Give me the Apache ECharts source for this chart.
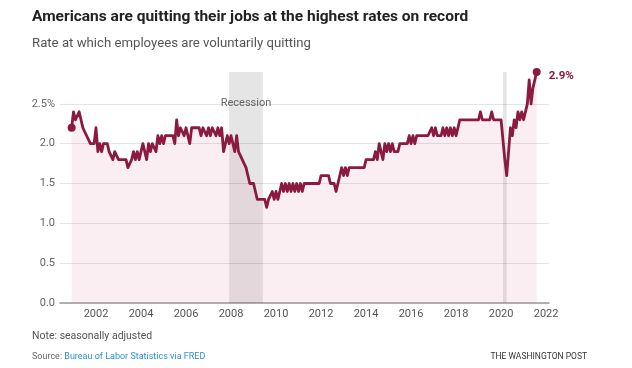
<!DOCTYPE html>
<html><head><meta charset="utf-8">
<script src="https://cdn.jsdelivr.net/npm/echarts@6/dist/echarts.min.js"></script>
<style>html,body{margin:0;padding:0;background:#fff}#c{width:632px;height:368px}</style>
</head><body><div id="c"></div>
<script>
// ---- data ----
const firstYear = 2000, firstMonth = 12;   // first observation: Dec 2000
const quitRate = [
  2.2,                                                             // 2000 (Dec)
  2.4, 2.3, 2.3, 2.4, 2.3, 2.2, 2.2, 2.1, 2.1, 2.0, 2.0, 2.0,      // 2001
  2.2, 1.9, 2.0, 1.9, 2.0, 2.0, 2.0, 1.9, 1.9, 1.8, 1.9, 1.9,      // 2002
  1.8, 1.8, 1.8, 1.8, 1.8, 1.7, 1.7, 1.8, 1.9, 1.8, 1.9, 1.8,      // 2003
  1.9, 2.0, 1.9, 1.8, 2.0, 1.9, 2.0, 2.0, 1.9, 2.1, 2.0, 2.1,      // 2004
  2.0, 2.1, 2.1, 2.1, 2.1, 2.1, 2.0, 2.3, 2.1, 2.2, 2.2, 2.1,      // 2005
  2.2, 2.2, 2.0, 2.2, 2.2, 2.2, 2.2, 2.2, 2.1, 2.2, 2.2, 2.1,      // 2006
  2.2, 2.1, 2.2, 2.2, 2.1, 2.2, 2.1, 2.2, 1.9, 2.0, 2.1, 2.0,      // 2007
  2.1, 2.1, 1.9, 2.1, 1.9, 1.9, 1.8, 1.8, 1.7, 1.6, 1.5, 1.5,      // 2008
  1.5, 1.4, 1.3, 1.3, 1.3, 1.3, 1.3, 1.2, 1.3, 1.3, 1.4, 1.3,      // 2009
  1.4, 1.3, 1.4, 1.5, 1.4, 1.5, 1.4, 1.5, 1.4, 1.5, 1.4, 1.5,      // 2010
  1.4, 1.5, 1.4, 1.5, 1.5, 1.5, 1.5, 1.5, 1.5, 1.5, 1.5, 1.5,      // 2011
  1.6, 1.6, 1.6, 1.6, 1.6, 1.5, 1.5, 1.5, 1.4, 1.5, 1.5, 1.7,      // 2012
  1.6, 1.7, 1.6, 1.7, 1.7, 1.7, 1.7, 1.7, 1.7, 1.7, 1.7, 1.7,      // 2013
  1.8, 1.8, 1.8, 1.8, 1.8, 1.9, 1.8, 2.0, 1.9, 1.8, 2.0, 1.9,      // 2014
  2.0, 1.9, 2.0, 1.9, 1.9, 1.9, 2.0, 2.0, 2.0, 2.0, 2.0, 2.1,      // 2015
  2.0, 2.1, 2.0, 2.1, 2.1, 2.1, 2.1, 2.1, 2.1, 2.1, 2.1, 2.2,      // 2016
  2.1, 2.2, 2.1, 2.1, 2.1, 2.2, 2.1, 2.2, 2.1, 2.2, 2.1, 2.2,      // 2017
  2.1, 2.2, 2.3, 2.3, 2.3, 2.3, 2.3, 2.3, 2.3, 2.3, 2.3, 2.3,      // 2018
  2.3, 2.4, 2.3, 2.3, 2.3, 2.3, 2.3, 2.4, 2.3, 2.3, 2.3, 2.3,      // 2019
  2.3, 2.3, 1.8, 1.6, 1.9, 2.2, 2.1, 2.3, 2.2, 2.4, 2.3, 2.4,      // 2020
  2.3, 2.4, 2.5, 2.8, 2.5, 2.7, 2.7, 2.9                           // 2021 (Jan-Aug)
];
const xTickYears = [2002, 2004, 2006, 2008, 2010, 2012, 2014, 2016, 2018, 2020, 2022];
const recessionStarts = ['2007-12', '2020-02'];
const recessionEnds   = ['2009-06', '2020-04'];
const recessionNames  = ['Recession', ''];

// ---- build ----
const monthToX = s => { const [y, m] = s.split('-').map(Number); return y + (m - 1) / 12; };
const points = quitRate.map((v, i) => [firstYear + (firstMonth - 1) / 12 + i / 12, v]);
const endpoints = [points[0], points[points.length - 1]];
const lastVal = quitRate[quitRate.length - 1];
const yMax = Math.max(...quitRate);

const maroon = '#8a1a40';
const chart = echarts.init(document.getElementById('c'), null, { renderer: 'canvas' });
chart.setOption({
  animation: false,
  textStyle: { fontFamily: 'Roboto' },
  title: [
    { text: 'Americans are quitting their jobs at the highest rates on record', left: 32, top: 9, padding: 0,
      textStyle: { fontFamily: 'Roboto', fontWeight: 'bold', fontSize: 15.5, color: '#222' } },
    { text: 'Rate at which employees are voluntarily quitting', left: 32, top: 37, padding: 0,
      textStyle: { fontFamily: 'Roboto', fontWeight: 'normal', fontSize: 13.2, color: '#555' } },
    { text: 'Note: seasonally adjusted', left: 32, top: 331, padding: 0,
      textStyle: { fontFamily: 'Roboto', fontWeight: 'normal', fontSize: 10.5, color: '#555' } },
    { text: '{a|Source: }{b|Bureau of Labor Statistics via FRED}', left: 32, top: 352, padding: 0,
      textStyle: { fontWeight: 'normal', rich: {
        a: { fontFamily: 'Roboto', fontWeight: 'normal', fontSize: 9, color: '#666' },
        b: { fontFamily: 'Roboto', fontWeight: 'normal', fontSize: 9, color: '#2f8fd8' } } } },
    { text: 'THE WASHINGTON POST', right: 45, top: 352, padding: 0,
      textStyle: { fontFamily: 'Roboto', fontWeight: 'normal', fontSize: 8.5, color: '#333' } }
  ],
  grid: { left: 60, right: 83, top: 72, bottom: 65, containLabel: false },
  xAxis: {
    type: 'value', min: 2000.4, max: 2022.13,
    axisLine: { show: true, lineStyle: { color: '#9a9a9a', width: 1.5 } },
    axisTick: { show: false },
    splitLine: { show: false },
    axisLabel: { customValues: xTickYears, color: '#555', fontSize: 11, margin: 6, formatter: v => String(v) }
  },
  yAxis: {
    type: 'value', min: 0, max: yMax, interval: 0.5,
    axisLine: { show: false }, axisTick: { show: false },
    splitLine: { show: true, showMaxLine: false, lineStyle: { color: '#e4e4e4', width: 1 } },
    axisLabel: { color: '#666', fontSize: 11, margin: 5, showMaxLabel: false,
      formatter: v => (Math.abs(v - 2.5) < 1e-9 ? '2.5%' : v.toFixed(1)) }
  },
  series: [
    {
      type: 'line', data: points, symbol: 'none', z: 3,
      lineStyle: { color: maroon, width: 2.8, join: 'round' },
      areaStyle: { color: 'rgba(210,60,100,0.12)', origin: 'start' },
      endLabel: { show: true, formatter: () => lastVal.toFixed(1) + '%', color: maroon,
        fontWeight: 'bold', fontSize: 11.5, distance: 12, offset: [0, 4] },
      markArea: {
        silent: true,
        itemStyle: { color: 'rgba(0,0,0,0.1)' },
        label: { show: true, position: 'insideTop', distance: 26, color: '#666', fontSize: 11 },
        data: recessionStarts.map((s, i) => [
          { xAxis: monthToX(s), name: recessionNames[i] },
          { xAxis: monthToX(recessionEnds[i]) }
        ])
      }
    },
    {
      type: 'scatter', data: endpoints, symbol: 'circle', symbolSize: 8, z: 4,
      itemStyle: { color: maroon, opacity: 1 }, silent: true
    }
  ]
});
</script></body></html>
